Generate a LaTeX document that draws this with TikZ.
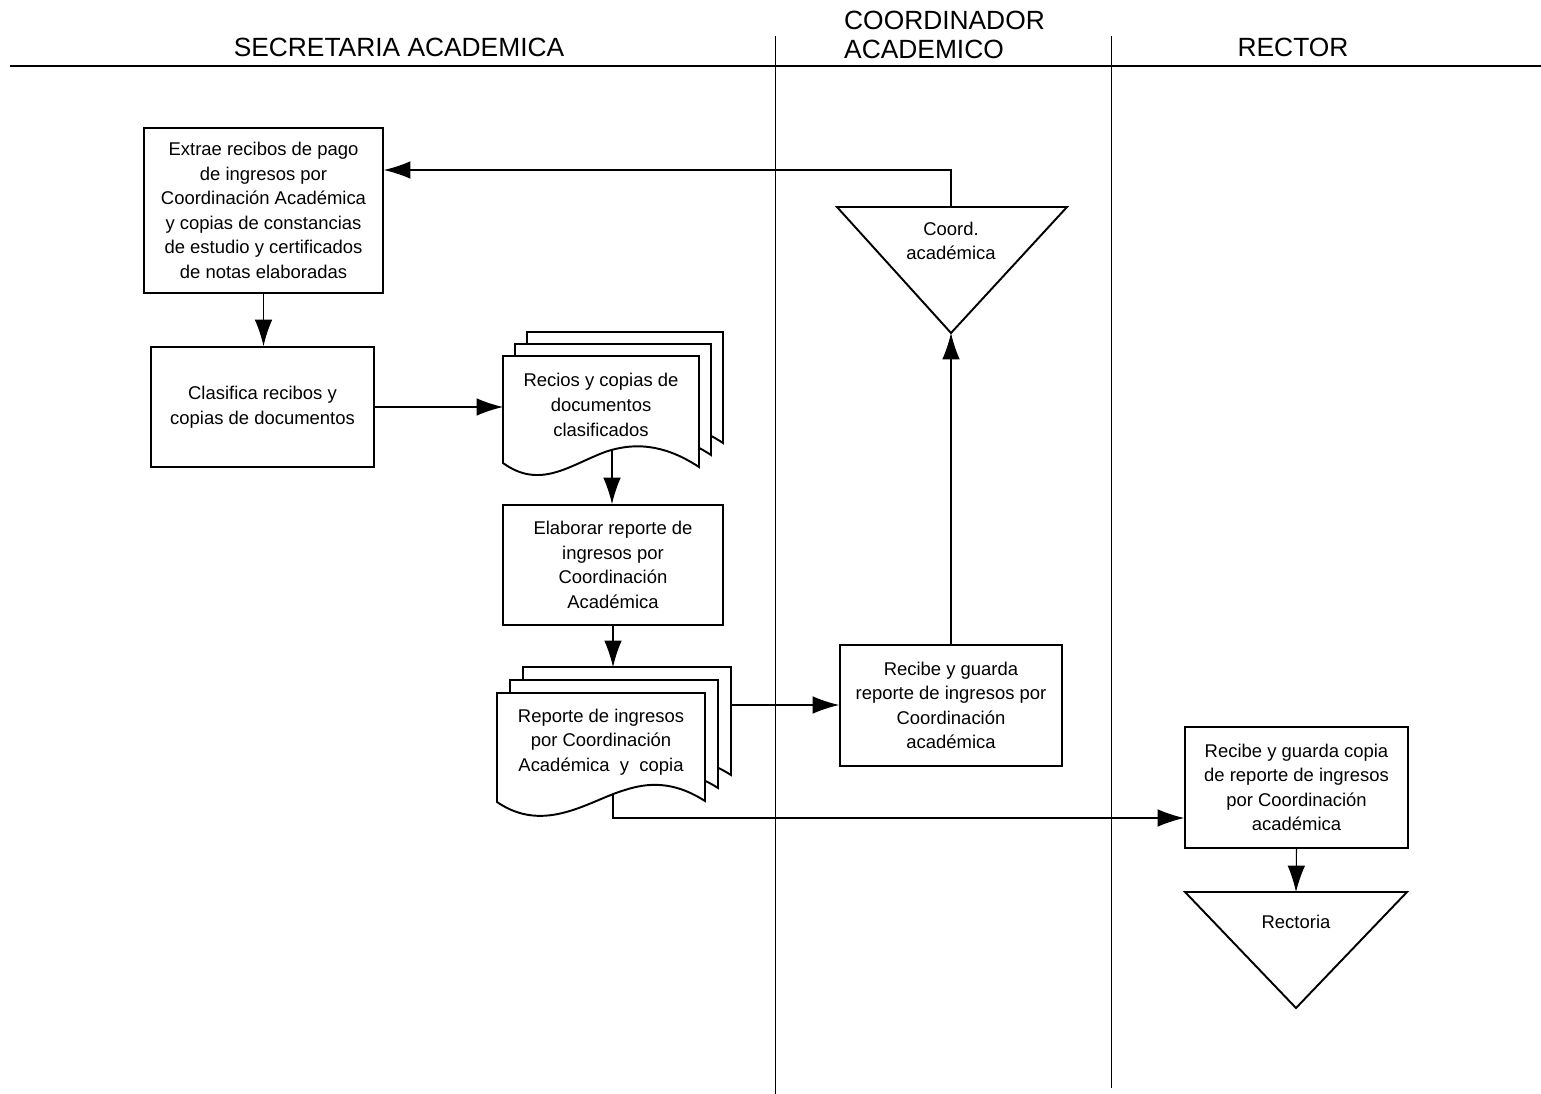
\documentclass[tikz,border=0pt]{standalone}
\usepackage{fontspec}
\setmainfont{Liberation Sans}
\usetikzlibrary{arrows.meta}
\tikzset{
  proc node/.style={rectangle,draw,line width=1.1pt,align=center,inner sep=2pt,
    font=\fontsize{10.5}{14}\selectfont},
  doc node/.style={rectangle,align=center,inner sep=2pt,font=\fontsize{10.5}{14}\selectfont},
  lane title/.style={font=\fontsize{15}{17}\selectfont},
  page/.style={draw,line width=1.1pt,fill=white},
  stop mark/.style={draw,line width=1.1pt}
}

\begin{document}
\begin{tikzpicture}[x=0.02cm,y=-0.02cm,>={Latex[length=15pt,width=10pt]},
	      flow/.style={->,line width=0.6pt}
	    ]
        \useasboundingbox (0,0) rectangle (1541,1094);
        % lanes
        \draw[line width=1.1pt] (10,66) -- (1541,66);
        \draw[line width=0.5pt] (775,36) -- (775,1094);
        \draw[line width=0.5pt] (1111,36) -- (1111,1088);
        \node[lane title] (sec) at (399,47) {SECRETARIA ACADEMICA};
        \node[lane title,anchor=west,align=left] (coo) at (838,35) {COORDINADOR\\ACADEMICO};
        \node[lane title] (rec) at (1293,47) {RECTOR};

        % processes
        \node[proc node,minimum width=4.78cm,minimum height=3.30cm] (1) at (263.5,210.5)
          {Extrae recibos de pago\\de ingresos por\\Coordinación Académica\\y copias de constancias\\de estudio y certificados\\de notas elaboradas};
        \node[proc node,minimum width=4.46cm,minimum height=2.40cm] (2) at (262.5,407)
          {Clasifica recibos y\\copias de documentos};
        \node[proc node,minimum width=4.40cm,minimum height=2.40cm] (3) at (613,565)
          {Elaborar reporte de\\ingresos por\\Coordinación\\Académica};
        \node[proc node,minimum width=4.44cm,minimum height=2.42cm] (4) at (951,705.5)
          {Recibe y guarda\\reporte de ingresos por\\Coordinación\\académica};
        \node[proc node,minimum width=4.46cm,minimum height=2.42cm] (5) at (1296.5,787.5)
          {Recibe y guarda copia\\de reporte de ingresos\\por Coordinación\\académica};

        % document stacks
        \foreach \s in {24,12,0}
          \draw[page,shift={(\s,-\s)}] (503,356) -- (699,356) -- (699,467)
            .. controls (670,448) and (640,440) .. (605,452)
            .. controls (570,465) and (540,490) .. (503,463) -- cycle;
        \node[doc node,minimum width=3.92cm] (d1) at (601,405)
          {Recios y copias de\\documentos\\clasificados};
        \coordinate (d1out) at (612,450);
        \coordinate (d1in) at (503,407);

        \foreach \s in {26,13,0}
          \draw[page,shift={(\s,-\s)}] (497,693) -- (705,693) -- (705,801)
            .. controls (680,785) and (655,780) .. (625,790)
            .. controls (590,800) and (545,835) .. (497,802) -- cycle;
        \node[doc node,minimum width=4.16cm] (d2) at (601,742)
          {Reporte de ingresos\\por Coordinación\\Académica\ \ y\ \ copia};
        \coordinate (d2top) at (612,667);
        \coordinate (d2right) at (731,705);
        \coordinate (d2out) at (613,793.6);

        % stores
        \coordinate (c1) at (837,207);
        \coordinate (c2) at (1067,207);
        \coordinate (capex) at (951,333);
        \coordinate (ctop) at (951,207);
        \draw[stop mark] (c1) -- (c2) -- (capex) -- cycle;
        \node[doc node] (ca) at (951,241) {Coord.\\académica};

        \coordinate (r1) at (1185,892);
        \coordinate (r2) at (1407,892);
        \coordinate (rapex) at (1296,1008);
        \coordinate (rtop) at (1296,892);
        \draw[stop mark] (r1) -- (r2) -- (rapex) -- cycle;
        \node[doc node] (ra) at (1296,922) {Rectoria};

        % flows
        \draw[flow] (1.south) -- (1.south |- 2.north);
        \draw[flow] (2.east) -- (2.east -| d1in);
        \draw[flow] (d1out) -- (d1out |- 3.north);
        \draw[flow] (3.south) -- (3.south |- d2top);
        \draw[flow] (d2right) -- (d2right -| 4.west);
        \draw[flow] (4.north) -- (capex);
        \draw[flow] (ctop) |- ([yshift=0.81cm]1.east);
        \draw[flow] (d2out) |- ([yshift=-0.61cm]5.west);
        \draw[flow] (5.south) -- (rtop);
      \end{tikzpicture}
\end{document}
